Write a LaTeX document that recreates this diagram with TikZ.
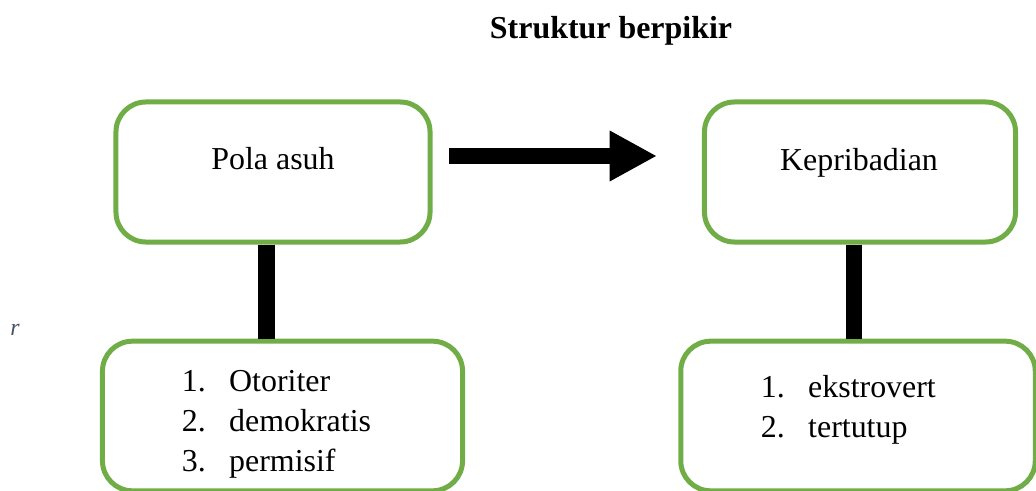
\documentclass[tikz,border=0pt]{standalone}
\usepackage{fontspec}
\setmainfont{Liberation Serif}
\usepackage{tikz}
\usetikzlibrary{arrows.meta}
\definecolor{ramka}{HTML}{70AD47}
\definecolor{bukva}{HTML}{44546A}
\tikzset{
  blok/.style={draw=ramka,line width=0.125cm,rounded corners=0.75cm,inner sep=0pt,fill=white},
  tekst/.style={font=\fontsize{22.7pt}{28.45pt}\selectfont,inner sep=0pt},
  stolb/.style={line width=0.42cm},
  strelka/.style={line width=0.4cm,-{Triangle[length=1.18cm,width=1.18cm]}}
}
\newcommand{\spisok}[1]{\begin{tabular}[t]{@{}p{1.18cm}@{}l@{}}#1\end{tabular}}

\begin{document}
\begin{tikzpicture}[x=0.025cm,y=-0.025cm]
\useasboundingbox (0,0) rectangle (1036,491);
%Заголовок
\node[tekst,anchor=base,font=\fontsize{22.7pt}{28.45pt}\selectfont\bfseries] (judul) at (611,39) {Struktur berpikir};
\node[anchor=base west,inner sep=0pt,text=bukva,font=\fontsize{17pt}{20pt}\selectfont\itshape] (huruf) at (10,335) {r};
%Блоки
\node[blok,minimum width=7.85cm,minimum height=3.5cm] (pola) at (273,172) {};
\node[blok,minimum width=7.775cm,minimum height=3.5cm] (kep) at (860,172) {};
\node[blok,minimum width=9cm,minimum height=3.74cm] (ots) at (282.5,416) {};
\node[blok,minimum width=8.86cm,minimum height=3.74cm] (eks) at (858,416) {};
%Тексты
\node[tekst,anchor=base] (polatxt) at (273,170) {Pola asuh};
\node[tekst,anchor=base] (keptxt) at (859,171) {Kepribadian};
\node[tekst,anchor=base west] (otstxt) at (181.7,391) {\spisok{1. & Otoriter\\ 2. & demokratis\\ 3. & permisif}};
\node[tekst,anchor=base west] (ekstxt) at (760.7,397) {\spisok{1. & ekstrovert\\ 2. & tertutup}};
%Связи
\draw[strelka] ([shift={(0.41cm,0.4cm)}]pola.east) -- ([shift={(-1.125cm,0.4cm)}]kep.west);
\draw[stolb] ([xshift=-0.16cm]pola.south) -- ([xshift=-0.16cm]pola.south |- ots.north);
\draw[stolb] ([xshift=-0.15cm]kep.south) -- ([xshift=-0.15cm]kep.south |- eks.north);
\end{tikzpicture}
\end{document}
